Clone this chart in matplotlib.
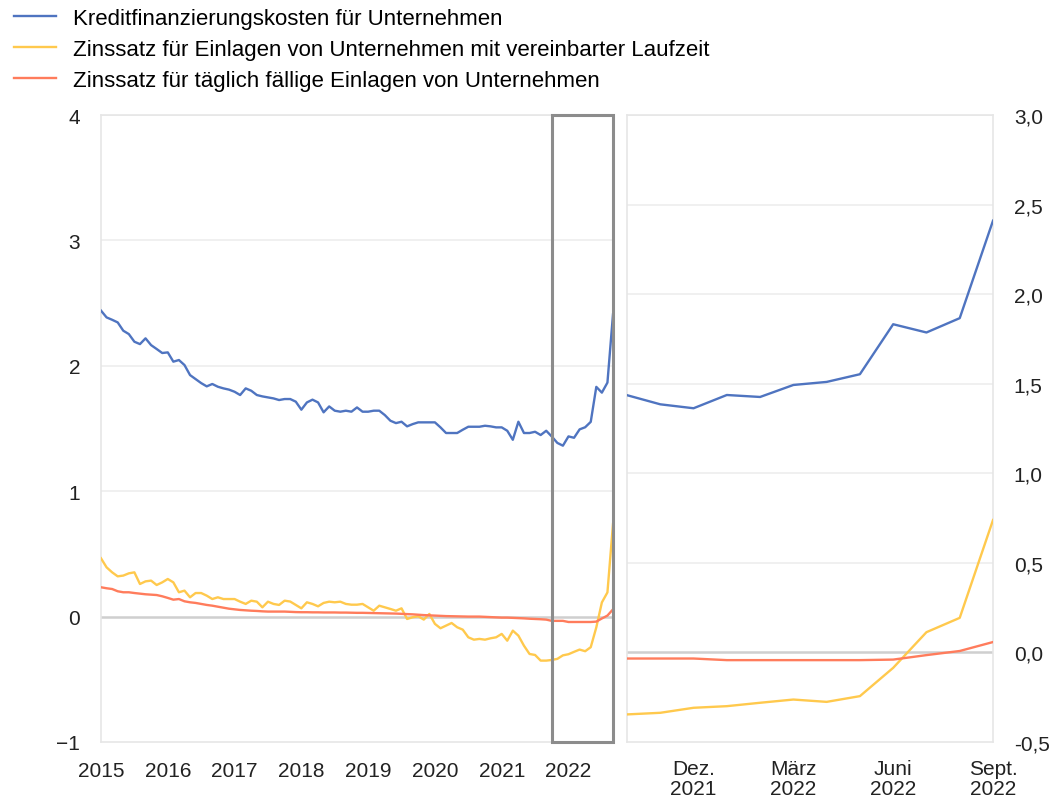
import numpy as np
import matplotlib
matplotlib.use("Agg")
import matplotlib.pyplot as plt
from matplotlib.patches import Rectangle

plt.rcParams['font.family'] = ['Liberation Sans', 'DejaVu Sans']

# monthly data, Jan 2015 - Sep 2022
years = [2015, 2016, 2017, 2018, 2019, 2020, 2021, 2022]

credit_cost = [2.44, 2.386, 2.367, 2.346, 2.28, 2.253, 2.192, 2.173, 2.219, 2.165,
               2.134, 2.102, 2.107, 2.033, 2.046, 2.006, 1.926, 1.894, 1.862, 1.836,
               1.855, 1.833, 1.82, 1.81, 1.793, 1.767, 1.82, 1.801, 1.767, 1.756,
               1.748, 1.74, 1.727, 1.735, 1.735, 1.714, 1.65, 1.708, 1.73, 1.708,
               1.629, 1.676, 1.642, 1.634, 1.642, 1.634, 1.668, 1.634, 1.634, 1.642,
               1.642, 1.607, 1.562, 1.543, 1.554, 1.517, 1.535, 1.549, 1.549, 1.549,
               1.549, 1.509, 1.464, 1.464, 1.464, 1.49, 1.514, 1.514, 1.514, 1.522,
               1.517, 1.509, 1.509, 1.482, 1.41, 1.554, 1.464, 1.464, 1.474, 1.448,
               1.482,
               1.436, 1.385, 1.363, 1.437, 1.426, 1.493, 1.510, 1.553, 1.832, 1.786,
               1.866, 2.41]

term_deposit = [0.465, 0.393, 0.353, 0.321, 0.327, 0.345, 0.353, 0.26, 0.281, 0.287,
                0.252, 0.273, 0.3, 0.273, 0.194, 0.207, 0.154, 0.188, 0.188, 0.167,
                0.14, 0.154, 0.14, 0.14, 0.14, 0.119, 0.101, 0.127, 0.119, 0.074,
                0.119, 0.101, 0.093, 0.127, 0.12, 0.093, 0.066, 0.114, 0.101, 0.082,
                0.109, 0.119, 0.114, 0.119, 0.101, 0.095, 0.095, 0.101, 0.074, 0.047,
                0.087, 0.074, 0.061, 0.047, 0.066, -0.019, -0.005, 0.003, -0.024, 0.021,
                -0.058, -0.093, -0.072, -0.051, -0.085, -0.104, -0.165, -0.184, -0.178, -0.184,
                -0.173, -0.165, -0.138, -0.192, -0.112, -0.152, -0.232, -0.298, -0.306, -0.351,
                -0.351,
                -0.346, -0.337, -0.309, -0.300, -0.281, -0.263, -0.276, -0.244, -0.086, 0.113,
                0.193, 0.739]

overnight_deposit = [0.234, 0.226, 0.22, 0.202, 0.194, 0.194, 0.188, 0.183, 0.178, 0.175,
                     0.172, 0.162, 0.149, 0.135, 0.14, 0.122, 0.114, 0.109, 0.101, 0.093,
                     0.087, 0.079, 0.071, 0.063, 0.058, 0.053, 0.05, 0.047, 0.045, 0.042,
                     0.04, 0.04, 0.04, 0.04, 0.038, 0.036, 0.035, 0.035, 0.034, 0.034,
                     0.033, 0.033, 0.033, 0.032, 0.032, 0.031, 0.03, 0.03, 0.029, 0.028,
                     0.027, 0.026, 0.025, 0.024, 0.022, 0.02, 0.018, 0.015, 0.012, 0.01,
                     0.008, 0.006, 0.004, 0.003, 0.002, 0.001, 0.0, 0.0, 0.0, -0.002,
                     -0.004, -0.006, -0.008, -0.008, -0.01, -0.012, -0.014, -0.017, -0.019, -0.021,
                     -0.024,
                     -0.034, -0.034, -0.034, -0.043, -0.043, -0.043, -0.043, -0.043, -0.04, -0.015,
                     0.008, 0.058]

zoom_labels = ['Dez.\n2021', 'März\n2022', 'Juni\n2022', 'Sept.\n2022']
zoom_months = [2, 5, 8, 11]
n_zoom = 12

labels = ['Kreditfinanzierungskosten für Unternehmen',
          'Zinssatz für Einlagen von Unternehmen mit vereinbarter Laufzeit',
          'Zinssatz für täglich fällige Einlagen von Unternehmen']
colors = ['#4f74c0', '#ffc94d', '#ff7c5c']

FS = 15
W, H = 1051, 803
fig = plt.figure(figsize=(W / 100, H / 100), dpi=100)

ax1 = fig.add_axes([101 / W, 60 / H, 512 / W, 627 / H])
ax2 = fig.add_axes([627 / W, 60 / H, 366 / W, 627 / H])

x = np.arange(len(credit_cost))
series = [credit_cost, term_deposit, overnight_deposit]

# left panel
for s, c, lab in zip(series, colors, labels):
    ax1.plot(x, s, color=c, lw=1.7, label=lab, zorder=3)
ax1.set_xlim(0, len(x) - 1)
ax1.set_ylim(-1, 4)
ax1.set_yticks([-1, 0, 1, 2, 3, 4])
ax1.set_yticklabels(['\u22121', '0', '1', '2', '3', '4'])
ax1.set_xticks([(y - years[0]) * 12 for y in years])
ax1.set_xticklabels([str(y) for y in years])
for v in [1, 2, 3, 4]:
    ax1.axhline(v, color='#eeeeee', lw=1.2, zorder=1)
ax1.axhline(0, color='#cfcfcf', lw=1.8, zorder=1)
start = len(x) - n_zoom
ax1.add_patch(Rectangle((start, -1), n_zoom - 1, 5, fill=False,
                        edgecolor='#8c8c8c', lw=2.2, clip_on=False, zorder=5))

# right panel (last 12 months)
xz = np.arange(n_zoom)
for s, c in zip(series, colors):
    ax2.plot(xz, s[-n_zoom:], color=c, lw=1.7, zorder=3)
ax2.set_xlim(0, n_zoom - 1)
ax2.set_ylim(-0.5, 3.0)
rticks = [-0.5, 0, 0.5, 1.0, 1.5, 2.0, 2.5, 3.0]
ax2.set_yticks(rticks)
ax2.set_yticklabels([f'{v:.1f}'.replace('.', ',') for v in rticks])
ax2.yaxis.tick_right()
ax2.set_xticks(zoom_months)
ax2.set_xticklabels(zoom_labels, linespacing=1.1)
for v in rticks[2:]:
    ax2.axhline(v, color='#eeeeee', lw=1.2, zorder=1)
ax2.axhline(0, color='#cfcfcf', lw=1.8, zorder=1)

for ax in (ax1, ax2):
    for sp in ax.spines.values():
        sp.set_color('#e6e6e6')
        sp.set_linewidth(1.2)
    ax.tick_params(length=0, labelsize=FS, colors='#222222')
    ax.tick_params(axis='y', pad=15)
ax1.tick_params(axis='x', pad=14)
ax2.tick_params(axis='x', pad=12)

fig.legend(loc='upper left', bbox_to_anchor=(0.005, 1.0), frameon=False,
           fontsize=FS + 1, handlelength=1.9, handletextpad=0.75,
           labelspacing=0.45, borderaxespad=0.2, borderpad=0.2)

fig.savefig('out.png', dpi=100)
